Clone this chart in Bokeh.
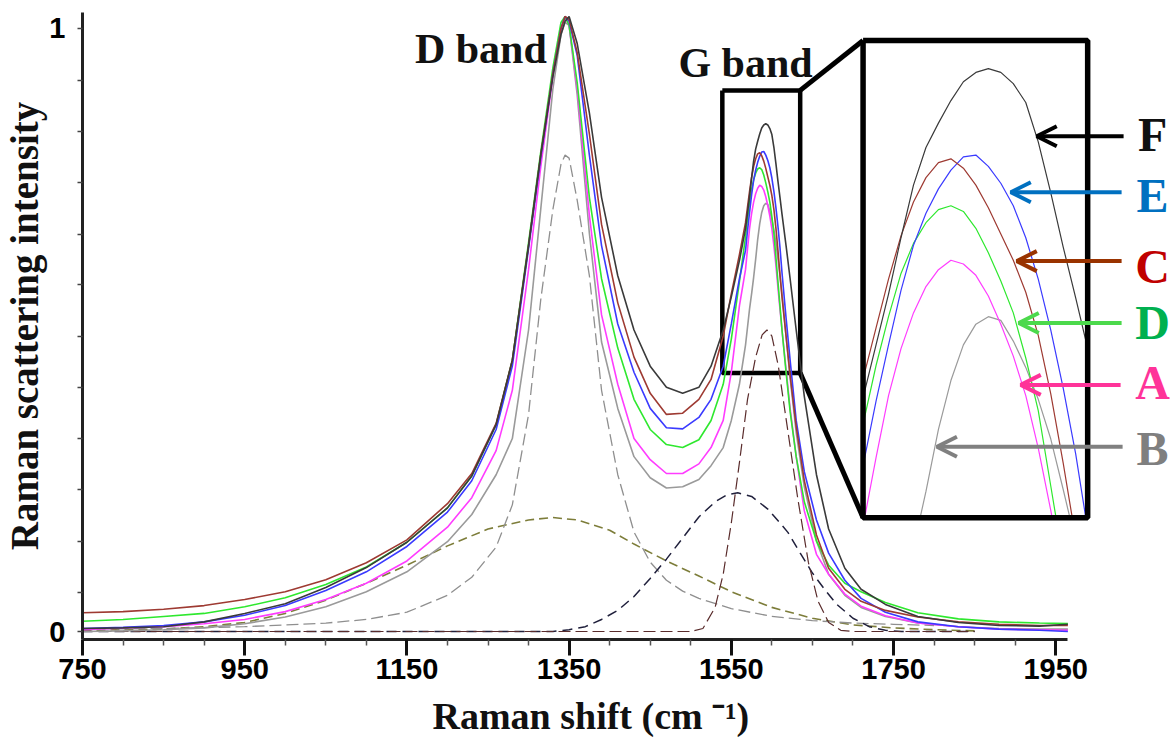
from bokeh.plotting import figure
from bokeh.models import Range1d, FixedTicker, Label, Arrow, OpenHead, Title
from bokeh.embed import file_html
from bokeh.resources import INLINE

# ---------------------------------------------------------------- data
# Raman shift grid (cm-1); the G-band top is sampled finely for the zoom panel
SHIFT = [750, 800, 850, 900, 950, 1000, 1050, 1100, 1150, 1200, 1230, 1260, 1280,
         1300, 1315, 1330, 1340, 1345, 1350, 1360, 1375, 1390, 1410, 1430, 1450,
         1470, 1490, 1510, 1525, 1540, 1550, 1560,
         1567.5, 1570, 1572.5, 1575, 1577.5, 1580, 1582.5, 1585, 1587.5, 1590,
         1592.5, 1595, 1597.5, 1600, 1602.5, 1605, 1607.5, 1610, 1612.5,
         1617.5, 1622.5, 1630, 1640, 1655, 1670, 1690, 1710, 1740, 1780, 1830,
         1880, 1930, 1965]

SAMPLE_F = [0.005, 0.006, 0.008, 0.016, 0.030, 0.046, 0.073, 0.106, 0.148, 0.205, 0.258, 0.343, 0.45,
            0.64, 0.79, 0.92, 0.99, 1.012, 1.02, 0.975, 0.86, 0.72, 0.59, 0.50, 0.44,
            0.405, 0.395, 0.405, 0.44, 0.50, 0.555, 0.615,
            0.668, 0.695, 0.722, 0.752, 0.780, 0.800, 0.813, 0.825, 0.835, 0.840,
            0.842, 0.840, 0.834, 0.824, 0.803, 0.776, 0.747, 0.720, 0.692,
            0.64, 0.585, 0.50, 0.39, 0.26, 0.17, 0.105, 0.07, 0.045, 0.025, 0.015,
            0.010, 0.009, 0.012]

SAMPLE_C = [0.031, 0.033, 0.037, 0.043, 0.053, 0.066, 0.086, 0.114, 0.152, 0.212, 0.262, 0.345, 0.45,
            0.64, 0.79, 0.925, 1.0, 1.02, 1.015, 0.96, 0.825, 0.675, 0.545, 0.455, 0.395,
            0.36, 0.362, 0.385, 0.418, 0.49, 0.56, 0.625,
            0.678, 0.704, 0.730, 0.753, 0.771, 0.784, 0.792, 0.794, 0.789, 0.780,
            0.768, 0.754, 0.740, 0.723, 0.700, 0.669, 0.632, 0.592, 0.555,
            0.49, 0.425, 0.34, 0.25, 0.16, 0.105, 0.07, 0.05, 0.035, 0.024, 0.016,
            0.012, 0.010, 0.010]

SAMPLE_E = [0.005, 0.007, 0.010, 0.016, 0.027, 0.043, 0.068, 0.099, 0.141, 0.198, 0.250, 0.335, 0.44,
            0.635, 0.785, 0.925, 1.0, 1.02, 1.012, 0.955, 0.79, 0.64, 0.51, 0.43, 0.37,
            0.338, 0.336, 0.355, 0.385, 0.44, 0.51, 0.585,
            0.632, 0.665, 0.695, 0.724, 0.748, 0.765, 0.778, 0.788, 0.795, 0.796,
            0.790, 0.781, 0.769, 0.752, 0.730, 0.703, 0.672, 0.637, 0.595,
            0.52, 0.45, 0.35, 0.265, 0.185, 0.13, 0.085, 0.055, 0.032, 0.016, 0.008,
            0.004, 0.002, 0.0]

SAMPLE_D = [0.017, 0.020, 0.025, 0.030, 0.041, 0.056, 0.078, 0.107, 0.148, 0.205, 0.258, 0.343, 0.45,
            0.645, 0.795, 0.935, 1.01, 1.02, 1.005, 0.91, 0.72, 0.585, 0.47, 0.385, 0.335,
            0.31, 0.305, 0.318, 0.35, 0.41, 0.485, 0.58,
            0.654, 0.684, 0.710, 0.733, 0.749, 0.760, 0.767, 0.769, 0.766, 0.757,
            0.744, 0.729, 0.712, 0.688, 0.660, 0.620, 0.580, 0.540, 0.50,
            0.43, 0.365, 0.29, 0.215, 0.15, 0.11, 0.08, 0.066, 0.048, 0.031, 0.021,
            0.016, 0.014, 0.013]

SAMPLE_A = [0.003, 0.006, 0.008, 0.013, 0.020, 0.033, 0.053, 0.080, 0.117, 0.173, 0.222, 0.30, 0.40,
            0.60, 0.77, 0.92, 1.0, 1.02, 1.005, 0.90, 0.69, 0.525, 0.41, 0.32, 0.285,
            0.262, 0.262, 0.278, 0.305, 0.35, 0.43, 0.54,
            0.60, 0.635, 0.668, 0.693, 0.712, 0.726, 0.735, 0.740, 0.738, 0.732,
            0.721, 0.706, 0.689, 0.668, 0.640, 0.607, 0.57, 0.535, 0.50,
            0.435, 0.37, 0.29, 0.20, 0.128, 0.095, 0.062, 0.042, 0.026, 0.014, 0.008,
            0.004, 0.003, 0.002]

SAMPLE_B = [0.0, 0.001, 0.003, 0.006, 0.013, 0.024, 0.041, 0.066, 0.099, 0.149, 0.194, 0.26, 0.32,
            0.50, 0.70, 0.90, 0.99, 1.01, 1.005, 0.89, 0.66, 0.48, 0.37, 0.29, 0.255,
            0.238, 0.24, 0.252, 0.275, 0.305, 0.35, 0.41,
            0.475, 0.505, 0.535, 0.56, 0.587, 0.617, 0.650, 0.676, 0.695, 0.706,
            0.710, 0.708, 0.697, 0.683, 0.666, 0.645, 0.618, 0.590, 0.560,
            0.49, 0.42, 0.33, 0.24, 0.15, 0.095, 0.06, 0.04, 0.025, 0.014, 0.008,
            0.005, 0.004, 0.004]

# fitted band components
FIT_1345_SHIFT = [750, 850, 950, 1050, 1100, 1150, 1200, 1230, 1260, 1280, 1300, 1315, 1330,
                  1340, 1345, 1350, 1360, 1375, 1390, 1410, 1430, 1450, 1470, 1490, 1510,
                  1550, 1600, 1650, 1700, 1750, 1800]
FIT_1345 = [0.004, 0.005, 0.008, 0.014, 0.02, 0.032, 0.06, 0.09, 0.14, 0.21, 0.36, 0.55, 0.70,
            0.775, 0.79, 0.785, 0.715, 0.59, 0.40, 0.26, 0.165, 0.115, 0.085, 0.067, 0.055,
            0.038, 0.025, 0.018, 0.014, 0.012, 0.010]

FIT_1330_SHIFT = [750, 850, 900, 950, 1000, 1050, 1100, 1150, 1200, 1250, 1300, 1330, 1360,
                  1400, 1430, 1470, 1510, 1550, 1600, 1650, 1700, 1750, 1800, 1850]
FIT_1330 = [0.002, 0.004, 0.008, 0.015, 0.03, 0.052, 0.08, 0.11, 0.142, 0.17, 0.185, 0.189, 0.185,
            0.168, 0.145, 0.117, 0.092, 0.066, 0.04, 0.022, 0.011, 0.006, 0.003, 0.001]

FIT_1558_SHIFT = [750, 1330, 1350, 1370, 1390, 1410, 1430, 1450, 1470, 1490, 1510, 1530, 1545,
                  1558, 1575, 1595, 1610, 1620, 1635, 1650, 1665, 1680, 1700, 1720, 1740,
                  1760, 1850]
FIT_1558 = [0.0, 0.0, 0.003, 0.008, 0.02, 0.035, 0.058, 0.088, 0.12, 0.155, 0.19, 0.215, 0.227,
            0.23, 0.224, 0.203, 0.18, 0.164, 0.13, 0.097, 0.07, 0.045, 0.022, 0.008, 0.002,
            0.0, 0.0]

FIT_1594_SHIFT = [750, 1500, 1515, 1530, 1540, 1550, 1560, 1570, 1580, 1588, 1594, 1600, 1608,
                  1620, 1632, 1645, 1657, 1670, 1685, 1700, 1850]
FIT_1594 = [0.0, 0.0, 0.005, 0.04, 0.095, 0.18, 0.28, 0.385, 0.455, 0.492, 0.50, 0.49, 0.44,
            0.33, 0.22, 0.115, 0.05, 0.015, 0.002, 0.0, 0.0]

SERIES = {"A": SAMPLE_A, "B": SAMPLE_B, "C": SAMPLE_C,
          "D": SAMPLE_D, "E": SAMPLE_E, "F": SAMPLE_F}
DRAW_ORDER = ["B", "A", "D", "E", "C", "F"]
LINE_COLORS = {"A": "#ff3cff", "B": "#9a9a9a", "C": "#9e3a32",
               "D": "#2ee82e", "E": "#3a3aff", "F": "#3a3a3a"}
LETTER_COLORS = {"F": "#111111", "E": "#0070c0", "C": "#c00000",
                 "D": "#00b050", "A": "#ff3399", "B": "#7f7f7f"}
ARROW_COLORS = {"F": "#000000", "E": "#0070c0", "C": "#993300",
                "D": "#4cd94c", "A": "#ff3399", "B": "#808080"}

X_TICKS = [750, 950, 1150, 1350, 1550, 1750, 1950]
Y_TICKS = [0, 1]
Y_MINOR = [0.065, 0.149, 0.235, 0.320, 0.404, 0.490, 0.575, 0.659, 0.745, 0.829, 0.914]

# ---------------------------------------------------------------- layout
W, H = 1176, 747
FL, FR, FT, FB = 80, 1176, 12, 640          # plot frame in page pixels
X0, X_PX = 750, 0.8125                      # shift at frame left, px per cm-1
Y0_PX, Y_PX = 632, 604                      # pixel row of zero, px per unit

x_end = X0 + (FR - FL) / X_PX
y_start = -(FB - Y0_PX) / Y_PX
y_end = (Y0_PX - FT) / Y_PX


def sx(px):
    return X0 + (px - FL) / X_PX


def sy(py):
    return (Y0_PX - py) / Y_PX


# magnified G-band window and where it is shown
INSET_WIN = (1567.4, 1612.4, 0.603, 0.857)   # shift lo/hi, intensity lo/hi
INSET_BOX = (862, 1087, 40, 518)             # left, right, top, bottom (px)
ZOOM_BOX = (721, 799, 90, 373)               # marked region on the main plot (px)

ix_scale = (INSET_BOX[1] - INSET_BOX[0]) / (INSET_WIN[1] - INSET_WIN[0])
iy_scale = (INSET_BOX[3] - INSET_BOX[2]) / (INSET_WIN[3] - INSET_WIN[2])
ix_start = INSET_WIN[0] - (INSET_BOX[0] - FL) / ix_scale
ix_end = ix_start + (FR - FL) / ix_scale
iy_start = INSET_WIN[2] - (FB - INSET_BOX[3]) / iy_scale
iy_end = INSET_WIN[2] + (INSET_BOX[3] - FT) / iy_scale


def clip_polyline(xs, ys, x0, x1, y0, y1):
    """Clip a polyline to a rectangle, returning pieces for multi_line."""
    out_x, out_y = [], []
    cur_x, cur_y = [], []

    def flush():
        nonlocal cur_x, cur_y
        if len(cur_x) > 1:
            out_x.append(cur_x)
            out_y.append(cur_y)
        cur_x, cur_y = [], []

    for i in range(len(xs) - 1):
        ax, ay, bx, by = xs[i], ys[i], xs[i + 1], ys[i + 1]
        ddx, ddy = bx - ax, by - ay
        t0, t1, ok = 0.0, 1.0, True
        for p_, q_ in ((-ddx, ax - x0), (ddx, x1 - ax), (-ddy, ay - y0), (ddy, y1 - ay)):
            if p_ == 0:
                if q_ < 0:
                    ok = False
                    break
            else:
                t = q_ / p_
                if p_ < 0:
                    if t > t1:
                        ok = False
                        break
                    t0 = max(t0, t)
                else:
                    if t < t0:
                        ok = False
                        break
                    t1 = min(t1, t)
        if not ok:
            flush()
            continue
        s_x, s_y = ax + t0 * ddx, ay + t0 * ddy
        e_x, e_y = ax + t1 * ddx, ay + t1 * ddy
        if cur_x and (abs(cur_x[-1] - s_x) > 1e-9 or abs(cur_y[-1] - s_y) > 1e-9):
            flush()
        if not cur_x:
            cur_x, cur_y = [s_x], [s_y]
        cur_x.append(e_x)
        cur_y.append(e_y)
        if t1 < 1.0:
            flush()
    flush()
    return out_x, out_y


# ---------------------------------------------------------------- figure
p = figure(width=W, height=H, output_backend="svg", toolbar_location=None,
           x_range=Range1d(X0, x_end), y_range=Range1d(y_start, y_end),
           min_border_left=FL, min_border_right=W - FR,
           min_border_top=FT, min_border_bottom=H - FB)
p.extra_x_ranges = {"ix": Range1d(ix_start, ix_end)}
p.extra_y_ranges = {"iy": Range1d(iy_start, iy_end)}
p.outline_line_color = None
p.xgrid.visible = False
p.ygrid.visible = False
p.background_fill_color = "white"
p.border_fill_color = "white"

# axes
xa = p.xaxis[0]
xa.bounds = (750, 1965)
xa.ticker = FixedTicker(ticks=X_TICKS,
                        minor_ticks=[v for v in range(800, 1965, 50) if v not in X_TICKS])
xa.axis_line_width = 3
xa.axis_line_color = "#222222"
xa.major_tick_out = 16
xa.major_tick_in = 0
xa.major_tick_line_width = 3
xa.major_tick_line_color = "#111111"
xa.minor_tick_out = 6
xa.minor_tick_in = 0
xa.minor_tick_line_width = 1.5
xa.minor_tick_line_color = "#555555"
xa.major_label_standoff = 3
xa.major_label_text_font = "Liberation Sans"
xa.major_label_text_font_style = "bold"
xa.major_label_text_font_size = "29px"
xa.major_label_text_color = "#000000"

ya = p.yaxis[0]
ya.ticker = FixedTicker(ticks=Y_TICKS, minor_ticks=Y_MINOR)
ya.axis_line_width = 3
ya.axis_line_color = "#222222"
ya.major_tick_out = 5
ya.major_tick_in = 0
ya.major_tick_line_width = 1.5
ya.major_tick_line_color = "#444444"
ya.minor_tick_out = 5
ya.minor_tick_in = 0
ya.minor_tick_line_width = 1.5
ya.minor_tick_line_color = "#444444"
ya.major_label_standoff = 12
ya.major_label_text_font = "Liberation Sans"
ya.major_label_text_font_style = "bold"
ya.major_label_text_font_size = "29px"
ya.major_label_text_color = "#000000"
ya.axis_label = "Raman scattering intensity"
ya.axis_label_text_font = "Liberation Serif"
ya.axis_label_text_font_style = "bold"
ya.axis_label_text_font_size = "39px"
ya.axis_label_text_color = "#111111"
ya.axis_label_standoff = 0

# x-axis title, placed under the drawn part of the axis
p.add_layout(Title(text="Raman shift (cm \u207b\u00b9)", align="left", offset=350,
                   text_font="Liberation Serif", text_font_style="bold",
                   text_font_size="38px", text_color="#111111", standoff=22),
             "below")

# marked G-band region and its connectors
zl, zr, zt, zb = ZOOM_BOX
il, ir, it, ib = INSET_BOX
p.line([sx(zl), sx(zr), sx(zr), sx(zl), sx(zl)],
       [sy(zt), sy(zt), sy(zb), sy(zb), sy(zt)], line_color="black", line_width=4.5)
p.line([sx(zr), sx(il)], [sy(zt), sy(it)], line_color="black", line_width=5)
p.line([sx(zr), sx(il)], [sy(zb), sy(ib)], line_color="black", line_width=5)

# fitted components
p.line(FIT_1330_SHIFT, FIT_1330, line_color="#7d7d3a", line_width=1.6, line_dash="9 5")
p.line(FIT_1345_SHIFT, FIT_1345, line_color="#8f8f8f", line_width=1.3, line_dash="12 5")
p.line(FIT_1558_SHIFT, FIT_1558, line_color="#20203c", line_width=1.5, line_dash="10 6")
p.line(FIT_1594_SHIFT, FIT_1594, line_color="#5a2c2c", line_width=1.2, line_dash="12 5")

# measured spectra
for s in DRAW_ORDER:
    p.line(SHIFT, SERIES[s], line_color=LINE_COLORS[s], line_width=1.6)

# zoom panel
p.quad(left=[sx(il)], right=[sx(ir)], top=[sy(it)], bottom=[sy(ib)],
       fill_color="white", line_color=None)
for s in DRAW_ORDER:
    cx, cy = clip_polyline(SHIFT, SERIES[s], *INSET_WIN)
    p.multi_line(cx, cy, x_range_name="ix", y_range_name="iy",
                 line_color=LINE_COLORS[s], line_width=1.2)
p.line([sx(il), sx(ir), sx(ir), sx(il), sx(il)],
       [sy(it), sy(it), sy(ib), sy(ib), sy(it)], line_color="black", line_width=5.5)

# band names
p.add_layout(Label(x=sx(413), y=sy(49), text="D band", text_font="Liberation Serif",
                   text_font_style="bold", text_font_size="42px", text_color="#111111",
                   text_align="left", text_baseline="middle"))
p.add_layout(Label(x=sx(677), y=sy(63), text="G band", text_font="Liberation Serif",
                   text_font_style="bold", text_font_size="42px", text_color="#111111",
                   text_align="left", text_baseline="middle"))

# sample arrows and letters (row, arrow tip, arrow tail, letter row)
ARROWS = {"F": (136, 1036, 1123, 134), "E": (192, 1010, 1121, 195),
          "C": (261, 1016, 1121, 266), "D": (323, 1018, 1121, 322),
          "A": (385, 1020, 1120, 383), "B": (447, 936, 1122, 449)}
for s, (row, tip, tail, lrow) in ARROWS.items():
    c = ARROW_COLORS[s]
    p.add_layout(Arrow(x_start=sx(tail), y_start=sy(row), x_end=sx(tip), y_end=sy(row),
                       line_color=c, line_width=4,
                       end=OpenHead(size=20, line_width=4, line_color=c)))
    p.add_layout(Label(x=sx(1152), y=sy(lrow), text=s, text_font="Liberation Serif",
                       text_font_style="bold", text_font_size="48px",
                       text_color=LETTER_COLORS[s], text_align="center",
                       text_baseline="middle"))

open("out.html", "w").write(file_html(p, INLINE))
